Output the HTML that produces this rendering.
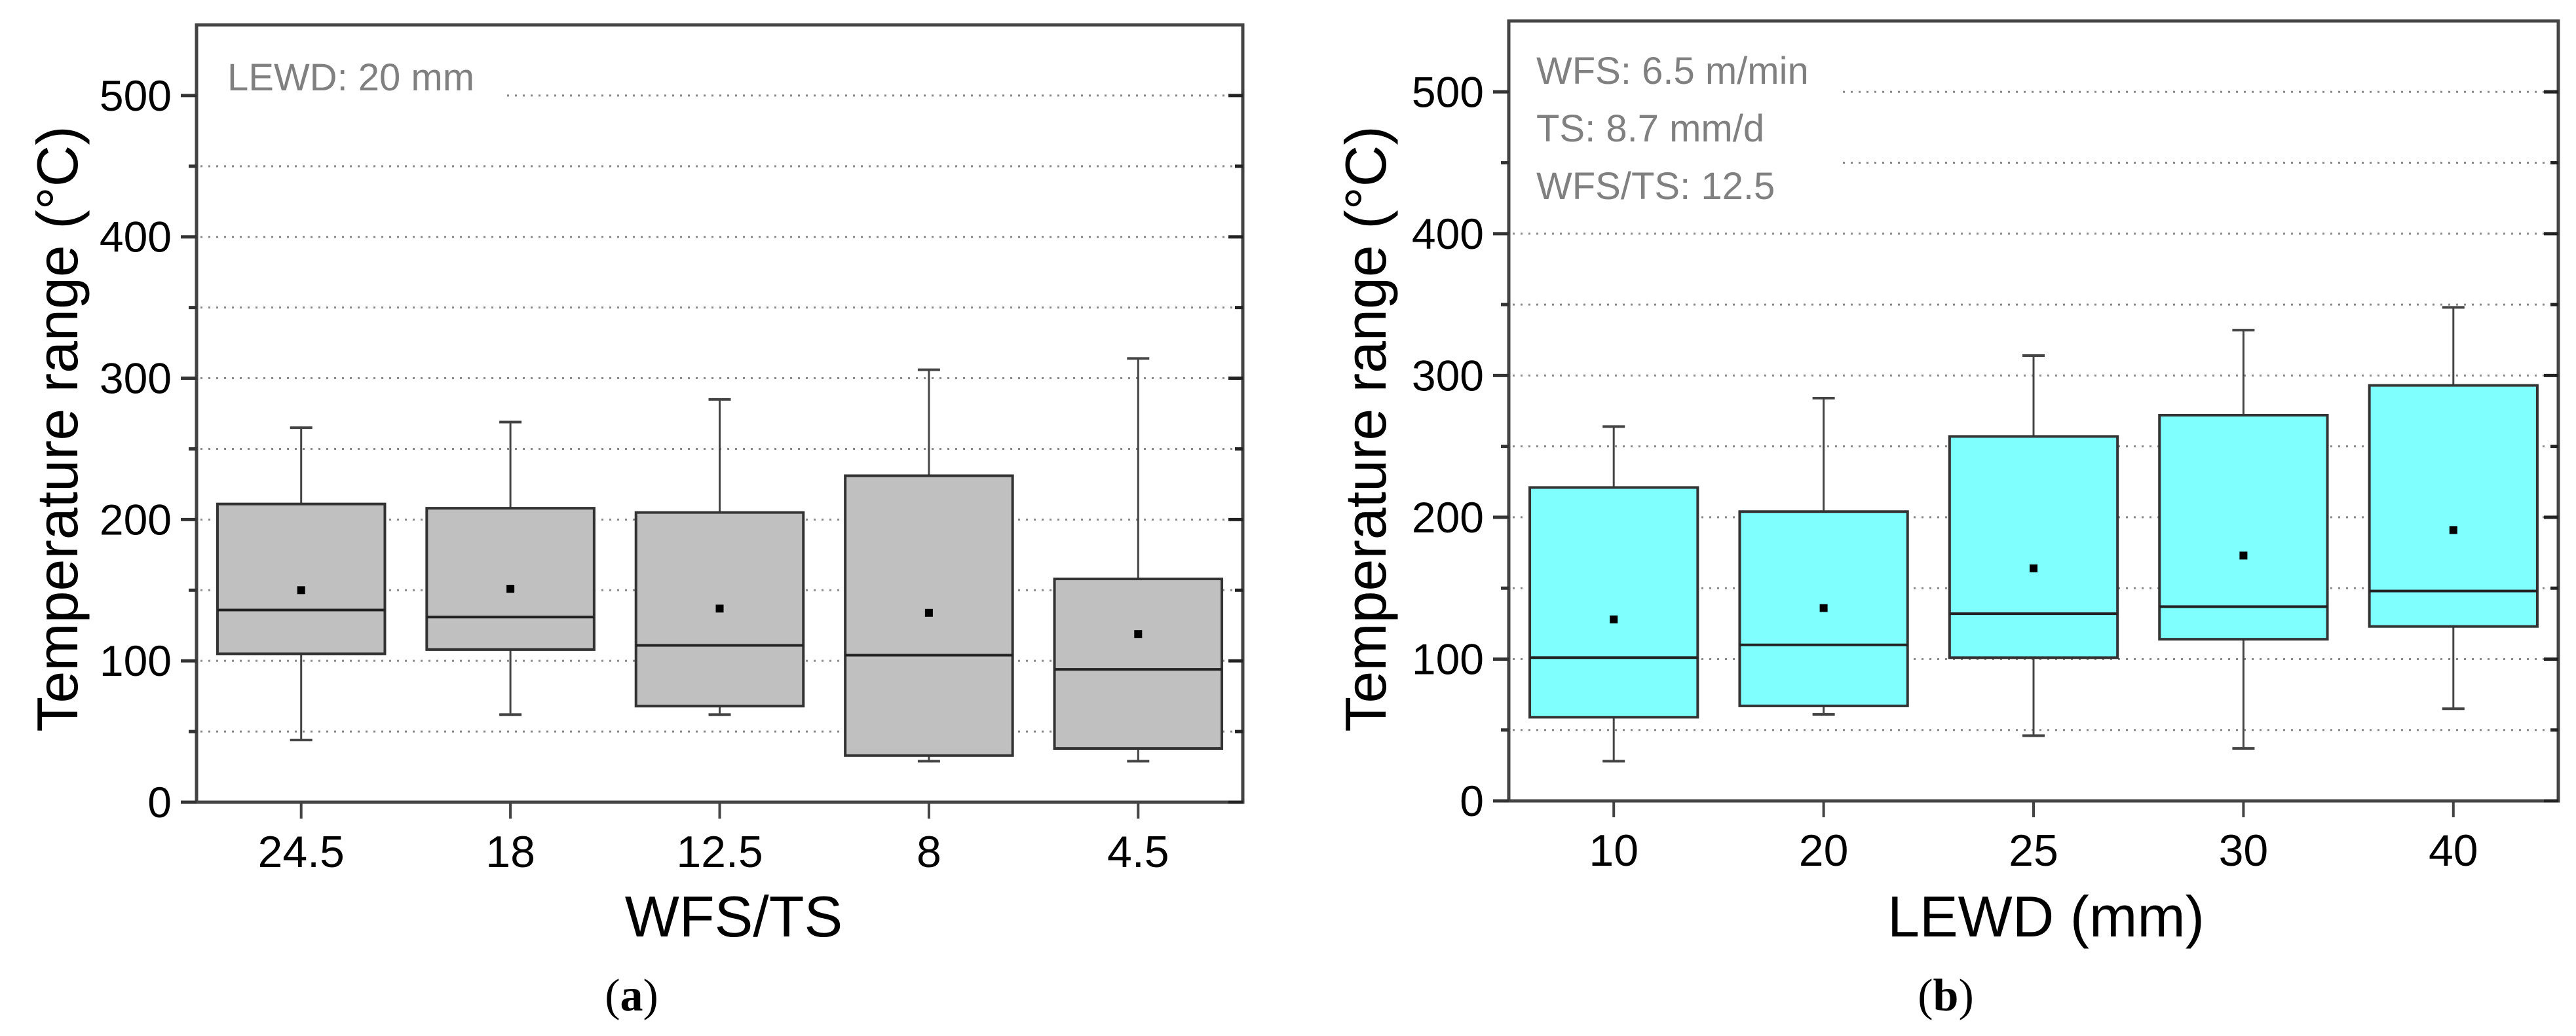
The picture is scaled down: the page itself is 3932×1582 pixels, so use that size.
<!DOCTYPE html>
<html><head><meta charset="utf-8"><style>
html,body{margin:0;padding:0;background:#fff;}
svg{display:block;}
text{font-family:"Liberation Sans",Arial,sans-serif;}
</style></head><body>
<svg id="fig" width="3932" height="1582" viewBox="0 0 3932 1582" xmlns="http://www.w3.org/2000/svg">
<rect width="3932" height="1582" fill="#fff"/>
</svg>
<script>
const catsA = ["24.5","18","12.5","8","4.5"];
const whiskHiA = [265,269,285,306,314];
const q3A = [211,208,205,231,158];
const medA = [136,131,111,104,94];
const meanA = [150,151,137,134,119];
const q1A = [105,108,68,33,38];
const whiskLoA = [44,62,62,29,29];

const catsB = ["10","20","25","30","40"];
const whiskHiB = [264,284,314,332,348];
const q3B = [221,204,257,272,293];
const medB = [101,110,132,137,148];
const meanB = [128,136,164,173,191];
const q1B = [59,67,101,114,123];
const whiskLoB = [28,61,46,37,65];

const yTicks = [0,100,200,300,400,500];
const yMinor = [50,150,250,350,450];

const NS = "http://www.w3.org/2000/svg";
const svg = document.getElementById('fig');
function mk(tag, attrs, parent){
  const e = document.createElementNS(NS, tag);
  for (const k in attrs) e.setAttribute(k, attrs[k]);
  (parent||svg).appendChild(e);
  return e;
}

function panel(cfg){
  const g = mk('g', {});
  
  
  const L = cfg.left, R = cfg.right, T = cfg.top, B = cfg.bottom;
  const yMax = 550;
  const y = v => B - (v / yMax) * (B - T);
  const n = cfg.cats.length;
  const step = (R - L) / n;
  const x = i => L + step * (i + 0.5);

  // gridlines
  [...yMinor, ...yTicks.filter(v=>v>0)].forEach(v => {
    const ln = mk('line', {x1:L+6, x2:R-6, y1:y(v), y2:y(v), stroke:'#888', 'stroke-width':3, 'stroke-dasharray':'3 9'}, g);
    
    
  });

  // annotation
  const ann = mk('g', {}, g);
  
  
  mk('rect', {x:L+6, y:T+6, width:cfg.annW, height:cfg.annH, fill:'#fff'}, ann);
  cfg.ann.forEach((s, i) => {
    const t = mk('text', {x:cfg.annX, y:cfg.annY + i*88, 'font-size':58, fill:'#808080'}, ann);
    t.textContent = s;
    
    
  });

  // boxes
  for (let i = 0; i < n; i++){
    const bg = mk('g', {}, g);
    
    
    const cx = x(i), w = step * 0.8, cw = 34;
    mk('line', {x1:cx, x2:cx, y1:y(cfg.hi[i]), y2:y(cfg.q3[i]), stroke:'#444', 'stroke-width':3}, bg);
    mk('line', {x1:cx, x2:cx, y1:y(cfg.q1[i]), y2:y(cfg.lo[i]), stroke:'#444', 'stroke-width':3}, bg);
    mk('line', {x1:cx-cw/2, x2:cx+cw/2, y1:y(cfg.hi[i]), y2:y(cfg.hi[i]), stroke:'#444', 'stroke-width':4}, bg);
    mk('line', {x1:cx-cw/2, x2:cx+cw/2, y1:y(cfg.lo[i]), y2:y(cfg.lo[i]), stroke:'#444', 'stroke-width':4}, bg);
    mk('rect', {x:cx-w/2, y:y(cfg.q3[i]), width:w, height:y(cfg.q1[i])-y(cfg.q3[i]), fill:cfg.fill, stroke:'#333', 'stroke-width':4}, bg);
    mk('line', {x1:cx-w/2, x2:cx+w/2, y1:y(cfg.med[i]), y2:y(cfg.med[i]), stroke:'#222', 'stroke-width':4}, bg);
    mk('rect', {x:cx-6, y:y(cfg.mean[i])-6, width:12, height:12, fill:'#000'}, bg);
  }

  // frame
  const fr = mk('rect', {x:L, y:T, width:R-L, height:B-T, fill:'none', stroke:'#444', 'stroke-width':5}, g);
  
  

  // y ticks
  yTicks.forEach(v => {
    mk('line', {x1:L-24, x2:L, y1:y(v), y2:y(v), stroke:'#333', 'stroke-width':5}, g);
    mk('line', {x1:R-22, x2:R, y1:y(v), y2:y(v), stroke:'#222', 'stroke-width':5}, g);
    const t = mk('text', {x:L-38, y:y(v)+23, 'font-size':66, 'text-anchor':'end', fill:'#000'}, g);
    t.textContent = String(v);
    
    
  });
  yMinor.forEach(v => {
    mk('line', {x1:L-12, x2:L, y1:y(v), y2:y(v), stroke:'#333', 'stroke-width':5}, g);
    mk('line', {x1:R-12, x2:R, y1:y(v), y2:y(v), stroke:'#222', 'stroke-width':5}, g);
  });
  // x ticks
  for (let i = 0; i < n; i++){
    mk('line', {x1:x(i), x2:x(i), y1:B, y2:B+25, stroke:'#444', 'stroke-width':4}, g);
    const t = mk('text', {x:x(i), y:B+99, 'font-size':68, 'text-anchor':'middle', fill:'#000'}, g);
    t.textContent = cfg.cats[i];
    
    
  }
  // titles
  const xt = mk('text', {x:cfg.xTitleX, y:1430, 'font-size':88, 'text-anchor':'middle', fill:'#000'}, g);
  xt.textContent = cfg.xTitle;
  
  
  const yt = mk('text', {x:0, y:0, 'font-size':88, 'text-anchor':'middle', fill:'#000', transform:'translate(' + cfg.yTitleX + ',' + 655 + ') rotate(-90)'}, g);
  yt.textContent = 'Temperature range (°C)';
  
  
  const cap = mk('text', {x:cfg.capX, y:1543, 'font-size':70, 'text-anchor':'middle', fill:'#000', style:'font-family:"Liberation Serif",serif'}, g);
  cap.innerHTML = '(<tspan font-weight="bold">' + cfg.cap + '</tspan>)';
  
  
}

panel({name:'panel-a', left:300, right:1897, top:38, bottom:1225, cats:catsA,
  hi:whiskHiA, q3:q3A, med:medA, mean:meanA, q1:q1A, lo:whiskLoA, fill:'#c0c0c0',
  ann:['LEWD: 20 mm'], annX:347, annY:138, annW:460, annH:125,
  xTitle:'WFS/TS', xTitleX:1120, yTitleX:118, capX:964, cap:'a'});
panel({name:'panel-b', left:2303, right:3905, top:32, bottom:1223, cats:catsB,
  hi:whiskHiB, q3:q3B, med:medB, mean:meanB, q1:q1B, lo:whiskLoB, fill:'#80ffff',
  ann:['WFS: 6.5 m/min','TS: 8.7 mm/d','WFS/TS: 12.5'], annX:2345, annY:128, annW:500, annH:300,
  xTitle:'LEWD (mm)', xTitleX:3123, yTitleX:2115, capX:2970, cap:'b'});
</script>
</body></html>
